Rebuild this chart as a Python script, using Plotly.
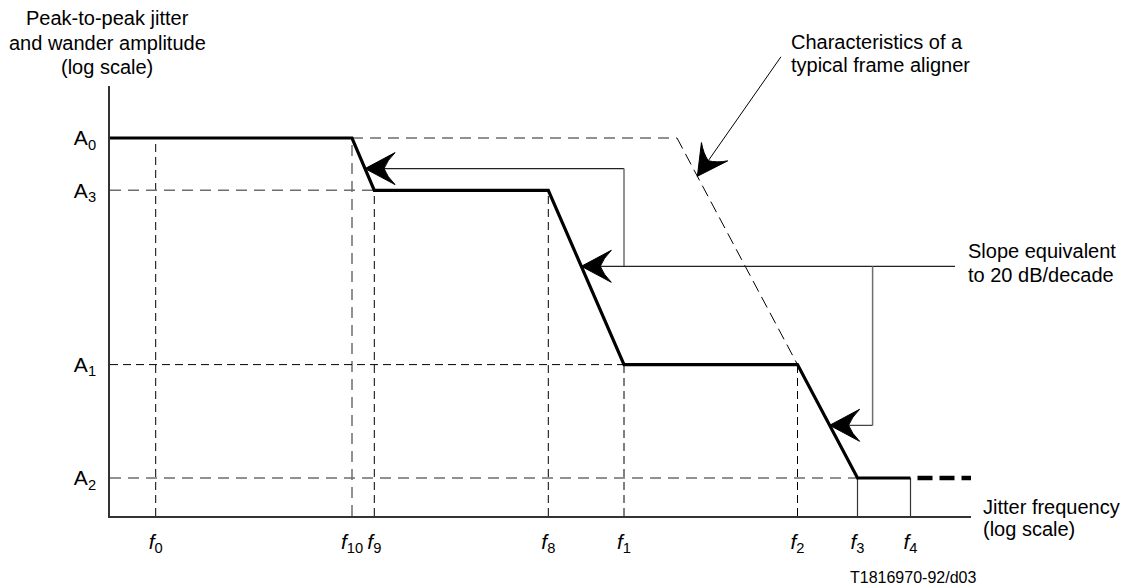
import numpy as np
import plotly.graph_objects as go

# ---------------- data (schematic log-scale positions) ----------------
freq_names = ["f0", "f10", "f9", "f8", "f1", "f2", "f3", "f4"]
freq_pos = [0.457, 2.42, 2.643, 4.383, 5.14, 6.875, 7.475, 8.005]
freq_labels = ["<i>f</i><sub>0</sub>", "<i>f</i><sub>10</sub>", "<i>f</i><sub>9</sub>",
               "<i>f</i><sub>8</sub>", "<i>f</i><sub>1</sub>", "<i>f</i><sub>2</sub>",
               "<i>f</i><sub>3</sub>", "<i>f</i><sub>4</sub>"]

amp_names = ["A0", "A3", "A1", "A2"]
amp_pos = [3.78, 3.257, 1.514, 0.38]
amp_labels = ["A<sub>0</sub>", "A<sub>3</sub>", "A<sub>1</sub>", "A<sub>2</sub>"]

x_max = 8.61          # end of frequency axis
y_max = 4.30          # top of amplitude axis
aligner_corner = 5.67  # corner frequency of typical frame aligner
pointer_levels = [3.474, 2.497, 0.907]   # amplitude levels of the slope pointers
bracket_x = [5.14, 7.626]                # vertical connectors of the pointers
slope_line_end = 8.45
aligner_tip_level = 3.397
aligner_leader_start = (6.72, 4.607)

F = dict(zip(freq_names, freq_pos))
A = dict(zip(amp_names, amp_pos))

# mask curve
mask_f = [0, F["f10"], F["f9"], F["f8"], F["f1"], F["f2"], F["f3"], F["f4"]]
mask_a = [A["A0"], A["A0"], A["A3"], A["A3"], A["A1"], A["A1"], A["A2"], A["A2"]]

# frame aligner characteristic
align_f = [F["f10"], aligner_corner, F["f2"]]
align_a = [A["A0"], A["A0"], A["A1"]]

FONT = "Liberation Sans, Arial, sans-serif"
fig = go.Figure()


def line(xs, ys, color="black", width=1, dash="solid"):
    fig.add_trace(go.Scatter(x=xs, y=ys, mode="lines", hoverinfo="skip",
                             showlegend=False,
                             line=dict(color=color, width=width, dash=dash)))


GRAY = "#6e6e6e"
BDASH = "8px,5px"
GDASH = "11px,7px"

# vertical guide lines (dropped from the mask curve)
for name in ["f0", "f10", "f9", "f8", "f1", "f2"]:
    fx = F[name]
    top = float(np.interp(fx, mask_f, mask_a))
    if name == "f10":
        line([fx, fx], [0, top], GRAY, 1.5, GDASH)
    else:
        line([fx, fx], [0, top], "black", 1, BDASH)

# horizontal guide lines
line([0, F["f9"]], [A["A3"], A["A3"]], GRAY, 1.5, GDASH)
line([0, F["f1"]], [A["A1"], A["A1"]], "black", 1, BDASH)
line([0, F["f3"]], [A["A2"], A["A2"]], GRAY, 1.5, GDASH)

# solid drops at f3 / f4
for name in ["f3", "f4"]:
    line([F[name], F[name]], [0, A["A2"]], "#333333", 1.2)

# frame aligner
line(align_f[:2], align_a[:2], GRAY, 1.5, GDASH)
line(align_f[1:], align_a[1:], "black", 1, "12px,6px")


# pointer lines
def tip_on(level, i0, i1):
    xs = [mask_f[i1], mask_f[i0]]
    ys = [mask_a[i1], mask_a[i0]]
    return float(np.interp(level, ys, xs))


tip_top = tip_on(pointer_levels[0], 1, 2)
tip_mid = tip_on(pointer_levels[1], 3, 4)
tip_low = tip_on(pointer_levels[2], 5, 6)

line([tip_top, bracket_x[0]], [pointer_levels[0]] * 2, "#222222", 1.2)
line([bracket_x[0], bracket_x[0]], [pointer_levels[0], pointer_levels[1]], GRAY, 1.5)
line([tip_mid, slope_line_end], [pointer_levels[1]] * 2, "#222222", 1.2)
line([bracket_x[1], bracket_x[1]], [pointer_levels[1], pointer_levels[2]], GRAY, 1.5)
line([tip_low, bracket_x[1]], [pointer_levels[2]] * 2, "#444444", 1.2)

# mask curve (thick)
line(mask_f, mask_a, "black", 3.2)
line([F["f4"], x_max], [A["A2"], A["A2"]], "black", 4.5, "0px,7px,15px,0px")

# aligner tip
t = (align_a[1] - aligner_tip_level) / (align_a[1] - align_a[2])
tip_al = (align_f[1] + t * (align_f[2] - align_f[1]), aligner_tip_level)


# ---------------- arrowheads (shapes) ----------------
def arrowhead(tx, ty, bx, by, L=0.30, W=0.16, N=0.19):
    d = np.array([tx - bx, ty - by], dtype=float)
    d /= np.linalg.norm(d)
    n = np.array([-d[1], d[0]])
    tip = np.array([tx, ty])
    back = tip - L * d
    b1 = back + W * n
    b2 = back - W * n
    notch = tip - N * d
    c1 = (b1 + notch) / 2 + 0.025 * d
    c2 = (b2 + notch) / 2 + 0.025 * d
    p = lambda v: f"{v[0]:.4f},{v[1]:.4f}"
    path = (f"M {p(tip)} L {p(b1)} Q {p(c1)} {p(notch)} "
            f"Q {p(c2)} {p(b2)} Z")
    fig.add_shape(type="path", path=path, xref="x", yref="y",
                  fillcolor="black", line=dict(color="black", width=1))


arrowhead(tip_top, pointer_levels[0], bracket_x[0], pointer_levels[0])
arrowhead(tip_mid, pointer_levels[1], slope_line_end, pointer_levels[1])
arrowhead(tip_low, pointer_levels[2], bracket_x[1], pointer_levels[2])
arrowhead(tip_al[0], tip_al[1], aligner_leader_start[0], aligner_leader_start[1])

# aligner leader line (annotation arrow, not clipped)
fig.add_annotation(x=tip_al[0], y=tip_al[1], ax=aligner_leader_start[0],
                   ay=aligner_leader_start[1], axref="x", ayref="y", xref="x", yref="y",
                   text="", showarrow=True, arrowhead=0, arrowwidth=1,
                   arrowcolor="black", standoff=0, startstandoff=0)

# ---------------- text ----------------
L_M, R_M, T_M, B_M = 110, 155, 86, 72
W, H = 1126, 588
PW, PH = W - L_M - R_M, H - T_M - B_M


def txt(s, xpx, ypx, size=20, xanchor="left"):
    fig.add_annotation(text=s, x=(xpx - L_M) / PW, y=(H - B_M - ypx) / PH,
                       xref="paper", yref="paper", showarrow=False,
                       xanchor=xanchor, yanchor="middle",
                       font=dict(family=FONT, size=size, color="black"))


for s, yy in zip(["Peak-to-peak jitter", "and wander amplitude", "(log scale)"], [18, 43, 67]):
    txt(s, 107, yy, xanchor="center")
for s, yy in zip(["Characteristics of a", "typical frame aligner"], [42, 65]):
    txt(s, 789, yy)
for s, yy in zip(["Slope equivalent", "to 20 dB/decade"], [251, 275]):
    txt(s, 966, yy)
for s, yy in zip(["Jitter frequency", "(log scale)"], [507, 529]):
    txt(s, 981, yy)
txt("T1816970-92/d03", 848, 577, size=16)

fig.update_layout(
    width=W, height=H, autosize=False,
    margin=dict(l=L_M, r=R_M, t=T_M, b=B_M),
    paper_bgcolor="white", plot_bgcolor="white",
    font=dict(family=FONT, size=20, color="black"),
    xaxis=dict(range=[0, x_max], showgrid=False, zeroline=False, showline=True,
               linecolor="#333333", linewidth=1.5, ticks="",
               tickvals=freq_pos, ticktext=freq_labels, ticklabelstandoff=6,
               tickfont=dict(family=FONT, size=21, color="black"), fixedrange=True),
    yaxis=dict(range=[0, y_max], showgrid=False, zeroline=False, showline=True,
               linecolor="#333333", linewidth=1.5, ticks="",
               tickvals=amp_pos, ticktext=amp_labels, ticklabelstandoff=8,
               tickfont=dict(family=FONT, size=21, color="black"), fixedrange=True),
)

fig.write_html("out.html", config={"displayModeBar": False},
               post_script="document.body.style.margin='0';document.body.style.overflow='hidden';")
